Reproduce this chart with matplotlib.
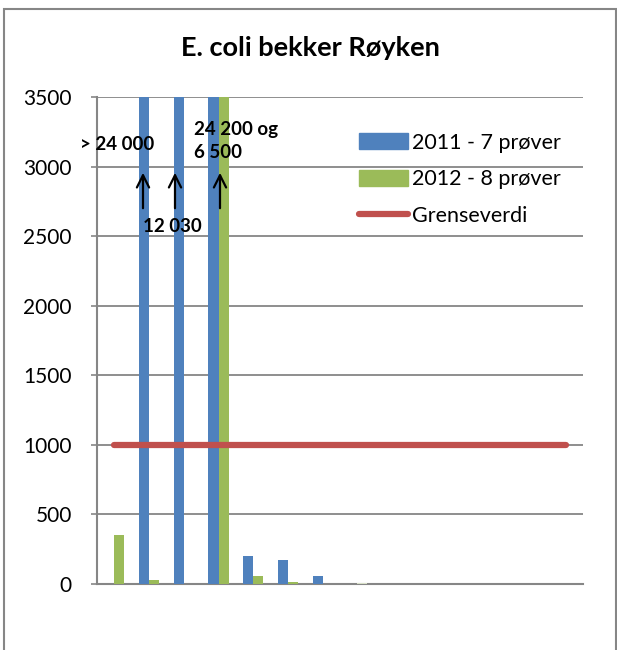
import matplotlib
matplotlib.use("Agg")
import matplotlib.pyplot as plt
import numpy as np
from matplotlib.patches import Patch, Rectangle
from matplotlib.lines import Line2D

plt.rcParams['font.family'] = ['Lato', 'DejaVu Sans']

categories = [str(i) for i in range(1, 15)]
vals_2011 = [0, 24000, 12030, 24200, 200, 170, 60, 0, 0, 0, 0, 0, 0, 0]
vals_2012 = [350, 30, 0, 6500, 55, 12, 0, 10, 0, 0, 0, 0, 0, 0]
limit = 1000
labels = ["2011 - 7 prøver", "2012 - 8 prøver", "Grenseverdi"]
title = "E. coli bekker Røyken"
yticks = [0, 500, 1000, 1500, 2000, 2500, 3000, 3500]

blue = "#4F81BD"
green = "#9BBB59"
red = "#C0504D"
gray = "#868686"

W, H = 617, 650
fig = plt.figure(figsize=(W/100, H/100), dpi=100)
ax = fig.add_axes([97/W, 1-584/H, 486/W, (584-97)/H])

x = np.arange(len(categories))
w = 0.29
ax.bar(x - w/2, vals_2011, width=w, color=blue, zorder=3)
gcolors = [green]*len(categories)
gcolors[7] = "#d8e0c8"
ax.bar(x + w/2, vals_2012, width=w, color=gcolors, zorder=3)
ax.plot([x[0], x[-1]], [limit, limit], color=red, lw=4.5, solid_capstyle='round', zorder=4)

ax.set_xlim(-0.5, len(categories)-0.5)
ax.set_ylim(0, 3500)
ax.set_yticks(yticks)
ax.set_yticklabels([str(t) for t in yticks], fontsize=15)
ax.set_xticks([])
ax.yaxis.grid(True, color=gray, lw=1.3, zorder=0)
ax.set_axisbelow(True)
for s in ['top', 'right']:
    ax.spines[s].set_visible(False)
for s in ['left', 'bottom']:
    ax.spines[s].set_color(gray)
    ax.spines[s].set_linewidth(1.5)
ax.tick_params(axis='y', length=4, color=gray, width=1.2, pad=14)

fig.text(310/W, 1-48/H, title, ha='center', va='center', fontsize=19.5, fontweight='bold')

handles = [Patch(color=blue), Patch(color=green), Line2D([0], [0], color=red, lw=4.5, solid_capstyle='round')]
leg = ax.legend(handles, labels, loc='upper left', bbox_to_anchor=(350/W, 1-124/H), bbox_transform=fig.transFigure,
                frameon=False, fontsize=15.5, labelspacing=0.78, handlelength=2.3, handleheight=0.8,
                handletextpad=0.2, borderaxespad=0)

def ydata(py):
    return (584 - py) / (584 - 97) * 3500

def xdata(px):
    return (px - 97) / 486 * 14 - 0.5

fig.text(80/W, 1-145/H, "> 24 000", ha='left', va='center', fontsize=13.5, fontweight='bold', zorder=10)
fig.text(143/W, 1-227/H, "12 030", ha='left', va='center', fontsize=13.5, fontweight='bold', zorder=10)
fig.text(194/W, 1-141/H, "24 200 og\n6 500", ha='left', va='center', fontsize=13.5, fontweight='bold',
         linespacing=1.45, zorder=10)

for px in [143, 175, 220]:
    ax.annotate("", xy=(xdata(px), ydata(170)), xytext=(xdata(px), ydata(211)),
                arrowprops=dict(arrowstyle='->', color='black', lw=1.6, mutation_scale=22), zorder=6,
                annotation_clip=False)

fig.patches.append(Rectangle((4/W, -0.01), 612/W, 1-9/H+0.01, transform=fig.transFigure,
                             fill=False, edgecolor=gray, lw=1.5))

fig.savefig("out.png", dpi=100)
